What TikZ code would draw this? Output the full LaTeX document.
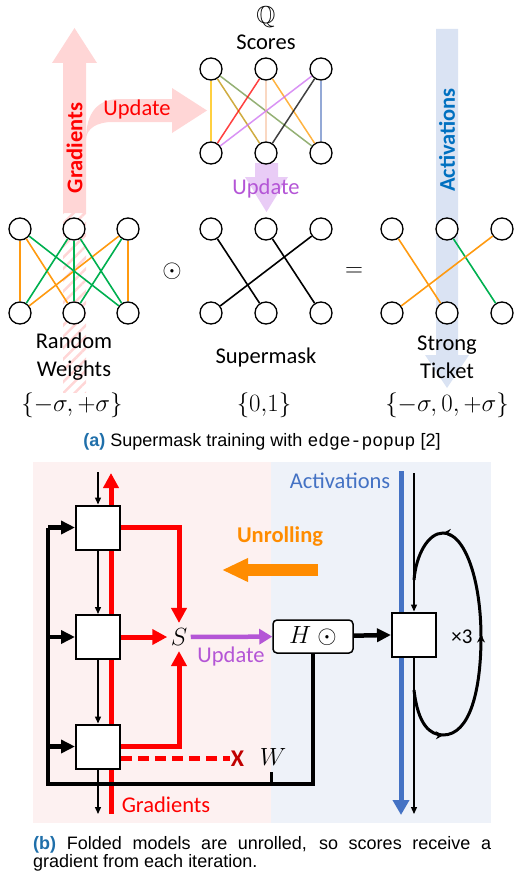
\documentclass[tikz,border=0pt]{standalone}
\usepackage{amsmath,amssymb}
\usepackage{fontspec}
\setmainfont{Carlito}
\newfontfamily\capfont{Liberation Sans}
\newfontfamily\codefont{Liberation Mono}
\usepackage{tikz}
\usetikzlibrary{positioning,arrows.meta,patterns.meta,decorations.markings}
\usepackage{xcolor}

\definecolor{gradpink}{HTML}{FFD6D6}
\definecolor{actblue}{HTML}{DAE3F3}
\definecolor{updlilac}{HTML}{E9CCF6}
\definecolor{updpurple}{HTML}{B455D6}
\definecolor{wgreen}{HTML}{00B050}
\definecolor{worange}{HTML}{FF9A10}
\definecolor{capblue}{HTML}{1F6FAA}
\definecolor{textblue}{HTML}{0070C0}
\definecolor{redbg}{HTML}{FDF1F1}
\definecolor{bluebg}{HTML}{EEF2F9}
\definecolor{linkblue}{HTML}{4472C4}
\definecolor{unroll}{HTML}{FF8C00}
\definecolor{darkred}{HTML}{C00000}

\tikzset{
  neuron/.style={circle,draw,fill=white,line width=1.3pt,minimum size=22pt,inner sep=0pt},
  cell/.style={rectangle,draw,fill=white,line width=2pt,minimum size=44pt,inner sep=0pt},
  link/.style={line width=1.6pt},
  score/.style={line width=1.5pt,opacity=0.75},
  lbl/.style={font=\fontsize{22.5}{28}\selectfont,align=center},
  setlbl/.style={font=\fontsize{24.5}{28}\selectfont},
  redarrow/.style={draw=red,line width=5pt,-{Triangle[length=15pt,width=15pt]}},
  wire/.style={line width=4.5pt},
  wirearrow/.style={line width=4.5pt,-{Triangle[length=14pt,width=13pt]}},
  thinarrow/.style={line width=1.3pt,-{Triangle[length=7pt,width=6pt]}},
}

\begin{document}
\begin{tikzpicture}[x=1pt,y=-1pt]
\useasboundingbox (0,0) rectangle (514,875);

% (a) big arrows behind the nets
\fill[gradpink] (63,213) -- (63,63) -- (52,63) -- (74.5,28) -- (97,63) -- (86,63) -- (86,213) -- cycle;
\fill[pattern={Lines[angle=45,distance=8pt,line width=2.5pt]},pattern color=gradpink] (63,213) rectangle (86,392);
\fill[gradpink] (86,140) .. controls (86,112) and (98,99) .. (120,99) -- (172,99) -- (172,88)
  -- (207,110.5) -- (172,133) -- (172,122) -- (112,122) .. controls (98,122) and (86,128) .. (86,140) -- cycle;
\fill[actblue] (436,29) -- (458,29) -- (458,355) -- (469,355) -- (447,388) -- (425,355) -- (436,355) -- cycle;
\fill[updlilac] (255,163) -- (278,163) -- (278,177) -- (288,177) -- (266.5,212) -- (245,177) -- (255,177) -- cycle;

\node[lbl,font=\fontsize{22.5}{28}\selectfont\bfseries,red,rotate=90] (grad) at (74.5,148) {Gradients};
\node[lbl,red] (upd) at (137,110) {Update};
\node[lbl,textblue,font=\fontsize{22.5}{28}\selectfont\bfseries,rotate=90] (act) at (447,140) {Activations};
\node[lbl,updpurple] (upd2) at (266,188) {Update};

% scores
\node[setlbl] (q) at (266,17) {$\mathbb{Q}$};
\node[lbl,anchor=base] (sc) at (266,49) {Scores};
\foreach \n/\x in {1/211,2/266,3/321}{
  \node[neuron] (st\n) at (\x,69) {};
  \node[neuron] (sb\n) at (\x,153) {};
}
\draw[score,color={rgb,255:red,255;green,192;blue,0}] (st1) -- (sb1);
\draw[score,color={rgb,255:red,191;green,144;blue,0}] (st1) -- (sb2);
\draw[score,color={rgb,255:red,112;green,150;blue,70}] (st1) -- (sb3);
\draw[score,red] (st2) -- (sb1);
\draw[score,color={rgb,255:red,248;green,203;blue,173}] (st2) -- (sb2);
\draw[score,color={rgb,255:red,255;green,153;blue,0}] (st2) -- (sb3);
\draw[score,color={rgb,255:red,204;green,110;blue,240}] (st3) -- (sb1);
\draw[score,black] (st3) -- (sb2);
\draw[score,color={rgb,255:red,112;green,140;blue,200}] (st3) -- (sb3);

% random weights, supermask, strong ticket
\foreach \n/\x in {1/20,2/74,3/128}{
  \node[neuron] (rt\n) at (\x,229) {};
  \node[neuron] (rb\n) at (\x,313) {};
}
\foreach \n/\x in {1/211,2/266,3/321}{
  \node[neuron] (mt\n) at (\x,229) {};
  \node[neuron] (mb\n) at (\x,313) {};
}
\foreach \n/\x in {1/392,2/447,3/502}{
  \node[neuron] (tt\n) at (\x,229) {};
  \node[neuron] (tb\n) at (\x,313) {};
}
\foreach \a/\b in {rt1/rb1,rt1/rb2,rt3/rb1,rt3/rb3}
  \draw[link,worange] (\a) -- (\b);
\foreach \a/\b in {rt1/rb3,rt2/rb1,rt2/rb2,rt2/rb3,rt3/rb2}
  \draw[link,wgreen] (\a) -- (\b);
\foreach \a/\b in {mt1/mb2,mt2/mb3,mt3/mb1}
  \draw[link] (\a) -- (\b);
\draw[link,worange] (tt1) -- (tb2);
\draw[link,wgreen] (tt2) -- (tb3);
\draw[link,worange] (tt3) -- (tb1);

\node[font=\fontsize{29}{29}\selectfont] (dot) at (172,271) {$\odot$};
\node[setlbl] (eq) at (354,272) {$=$};

\node[lbl] (rw) at (74,357) {Random\\Weights};
\node[lbl] (sm) at (266,357) {Supermask};
\node[lbl] (st) at (447,357) {Strong\\Ticket};
\node[setlbl] (rws) at (72,405) {$\{-\sigma,+\sigma\}$};
\node[setlbl] (sms) at (264,405) {$\{0{,}1\}$};
\node[setlbl] (sts) at (447,405) {$\{-\sigma,0,+\sigma\}$};

\node[font=\capfont\fontsize{18}{18.5}\selectfont,anchor=base] (capa) at (262,446)
  {\textcolor{capblue}{\bfseries(a)} Supermask training with {\codefont edge-popup} [2]};

% (b) unrolled model
\fill[redbg] (33,462) rectangle (271,823);
\fill[bluebg] (271,462) rectangle (491,823);

\draw[red,line width=5pt,-{Triangle[length=15pt,width=15pt]}] (111,814) -- (111,473);
\draw[linkblue,line width=5pt,-{Triangle[length=15pt,width=16pt]}] (401,471) -- (401,815);

\node[cell] (c1) at (98,527.5) {};
\node[cell] (c2) at (98,637) {};
\node[cell] (c3) at (98,746.5) {};
\node[cell] (rc) at (414,634.5) {};
\node[font=\fontsize{27}{27}\selectfont] (s) at (179,637) {$S$};
\node[draw,fill=white,rounded corners=4pt,line width=1.5pt,minimum width=80pt,minimum height=33pt,
  font=\fontsize{27}{27}\selectfont] (h) at (313,636.5) {$H\ \odot$};

\draw[thinarrow] (98,472) -- (c1.north);
\draw[thinarrow] (c1) -- (c2);
\draw[thinarrow] (c2) -- (c3);
\draw[thinarrow] (c3.south) -- (98,814);
\draw[thinarrow] (414,473) -- (rc.north);
\draw[thinarrow] (rc.south) -- (414,814);

\draw[redarrow] (c1.east) -| ([yshift=2pt]s.north);
\draw[redarrow] (c2) -- (s);
\draw[redarrow] (c3.east) -| ([yshift=-2pt]s.south);
\coordinate (cut) at (230,758);
\draw[red,line width=5pt,dash pattern=on 11pt off 6pt] (c3.east |- cut) -- (cut);
\node[font=\fontsize{24}{24}\selectfont\bfseries,darkred] (x) at (237.5,759) {X};

\coordinate (wl) at (48,784);
\draw[wire] (h.south) |- (wl) -- (wl |- c1.west);
\foreach \c in {c1,c2,c3}
  \draw[wirearrow] (wl |- \c.west) -- (\c.west);
\draw[line width=3pt] (271,785) -- (271,772);
\node[font=\fontsize{27}{27}\selectfont] (w) at (273,757) {$W$};

\draw[updpurple,line width=4.5pt,-{Triangle[length=13pt,width=15pt]}] (s) -- (h);
\node[lbl,updpurple] (upd3) at (231,656) {Update};
\draw[wirearrow] (h) -- (rc);

\draw[line width=3pt,decoration={markings,
    mark=at position 0.17 with {\arrow{Stealth[length=8pt,width=8pt]}},
    mark=at position 0.5 with {\arrow{Stealth[length=8pt,width=8pt]}},
    mark=at position 0.83 with {\arrow{Stealth[length=8pt,width=8pt]}}},postaction={decorate}]
  (414,690) .. controls (418,725) and (430,735) .. (443,735)
  .. controls (470,735) and (481,690) .. (481,637)
  .. controls (481,580) and (465,533) .. (443,533)
  .. controls (428,533) and (416,555) .. (414,580);
\node[lbl,font=\fontsize{21}{21}\selectfont] (x3) at (462,637) {×3};

\node[lbl,font=\fontsize{22.5}{28}\selectfont\bfseries,unroll] (unr) at (280,537) {Unrolling};
\draw[unroll,line width=12pt,-{Triangle[length=26pt,width=22pt]}] (318,570) -- (222,570);
\node[lbl,linkblue] (act2) at (340,481) {Activations};
\node[lbl,red] (grad2) at (166,805) {Gradients};

\node[font=\capfont\fontsize{18}{18.5}\selectfont,anchor=base west,text width=458pt,align=justify,inner sep=0pt] (capb) at (33,849)
  {\textcolor{capblue}{\bfseries(b)} Folded models are unrolled, so scores receive a\linebreak gradient from each iteration.};
\end{tikzpicture}
\end{document}
